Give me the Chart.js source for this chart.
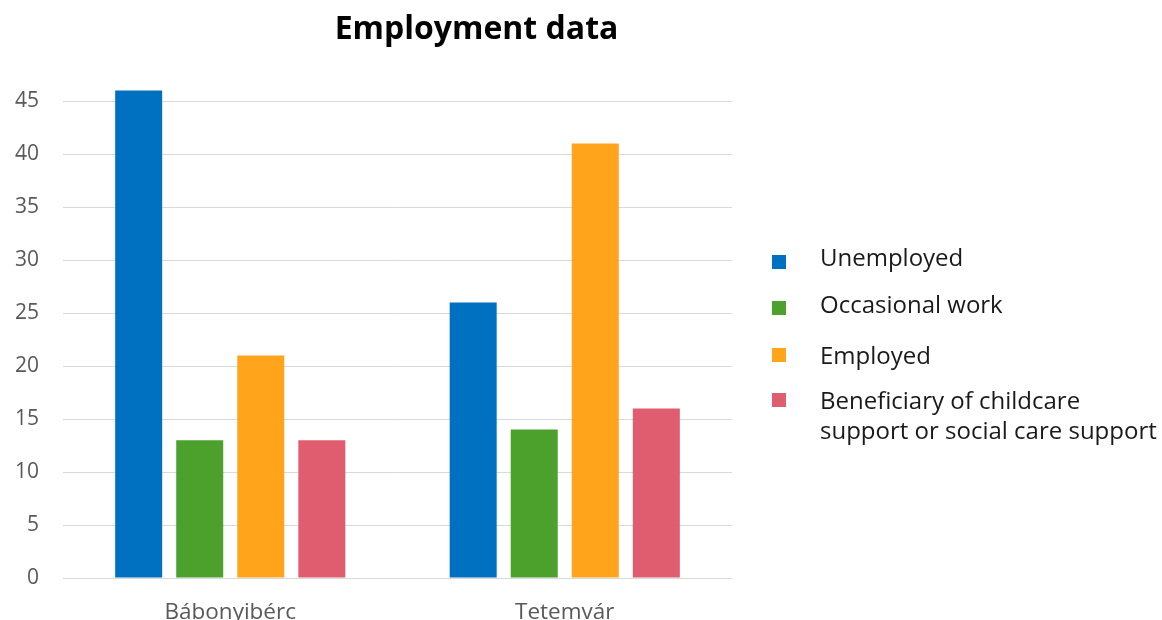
<!DOCTYPE html>
<html>
<head>
<meta charset="utf-8">
<script src="https://cdn.jsdelivr.net/npm/chart.js@4"></script>
<style>
  html, body { margin: 0; padding: 0; background: #fff; overflow: hidden; width: 1162px; height: 620px; }
  #c { position: absolute; left: 0; top: 0; }
  #legend { position: absolute; left: 772px; top: 0; font-family: "Open Sans", sans-serif; font-size: 24px; color: #1a1a1a; }
  .sw { position: absolute; left: 0; width: 14px; height: 14px; }
  .txt { position: absolute; left: 48px; line-height: 30px; white-space: nowrap; }
</style>
</head>
<body>
<canvas id="c" width="953" height="647"></canvas>
<div id="legend"></div>
<script>
const categories = ["Bábonyibérc", "Tetemvár"];
const seriesNames = ["Unemployed", "Occasional work", "Employed", ["Beneficiary of childcare", "support or social care support"]];
const unemployed = [46, 26];
const occasionalWork = [13, 14];
const employed = [21, 41];
const beneficiary = [13, 16];
const colors = ["#0070c0", "#4ba12c", "#ffa41b", "#e05c6f"];

const seriesValues = [unemployed, occasionalWork, employed, beneficiary];
const datasets = seriesValues.map((vals, i) => ({
  label: Array.isArray(seriesNames[i]) ? seriesNames[i].join(" ") : seriesNames[i],
  data: vals,
  backgroundColor: colors[i],
  borderWidth: 0,
  clip: false,
  categoryPercentage: 0.73,
  barPercentage: 0.77
}));

new Chart(document.getElementById("c"), {
  type: "bar",
  data: { labels: categories, datasets },
  options: {
    responsive: false,
    animation: false,
    devicePixelRatio: 1,
    layout: { padding: 0 },
    plugins: {
      legend: { display: false },
      tooltip: { enabled: false },
      title: {
        display: true,
        text: "Employment data",
        color: "#000",
        font: { family: "'Open Sans', sans-serif", size: 32, weight: "bold" },
        padding: { top: 11, bottom: 51.6 }
      }
    },
    scales: {
      y: {
        min: 0, max: 45,
        ticks: { stepSize: 5, color: "#595959", padding: 24, font: { family: "'Open Sans', sans-serif", size: 21 } },
        grid: { color: "#d9d9d9", drawTicks: false, lineWidth: 1 },
        border: { display: false },
        afterFit: (s) => { s.width = 63; }
      },
      yRight: {
        type: "linear",
        position: "right",
        display: true,
        ticks: { display: false },
        grid: { display: false, drawTicks: false },
        border: { display: false },
        afterFit: (s) => { s.width = 221; }
      },
      x: {
        ticks: { color: "#595959", padding: 21, font: { family: "'Open Sans', sans-serif", size: 22.5 } },
        grid: { display: false, drawTicks: false },
        border: { display: false }
      }
    }
  }
});

const lg = document.getElementById("legend");
const swatchY = [262, 308, 355, 400];
const textTop = [242, 289, 340, 385];
seriesNames.forEach((n, i) => {
  const lines = Array.isArray(n) ? n : [n];
  const sw = document.createElement("div");
  sw.className = "sw";
  sw.style.top = (swatchY[i] - 7) + "px";
  sw.style.background = colors[i];
  lg.appendChild(sw);
  const t = document.createElement("div");
  t.className = "txt";
  t.style.top = textTop[i] + "px";
  t.innerHTML = lines.join("<br>");
  lg.appendChild(t);
});
</script>
</body>
</html>
